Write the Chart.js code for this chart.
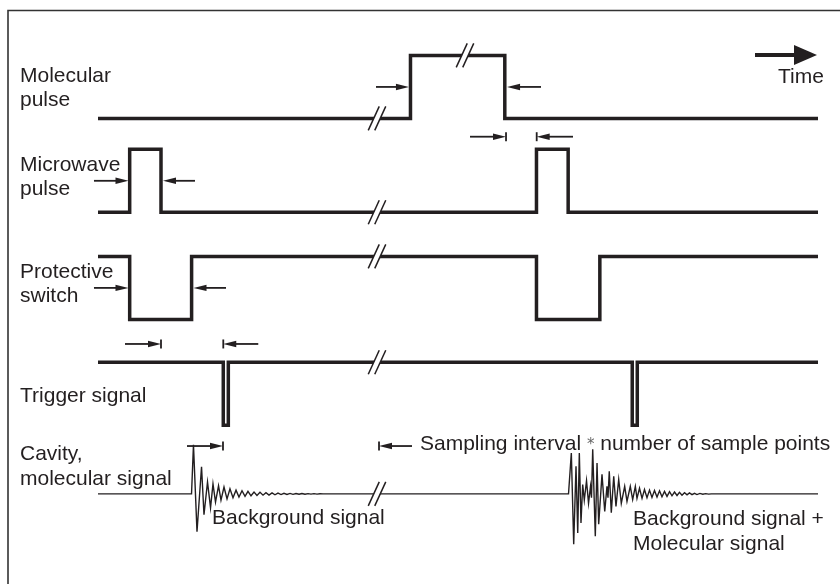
<!DOCTYPE html>
<html>
<head>
<meta charset="utf-8">
<script src="https://cdn.jsdelivr.net/npm/chart.js@4.4.0/dist/chart.umd.min.js"></script>
<style>
  html, body { margin: 0; padding: 0; background: #fff; }
  #wrap { width: 840px; height: 584px; position: relative; }
</style>
</head>
<body>
<div id="wrap"><canvas id="timing"></canvas></div>
<script>
// time runs 0..100 (arbitrary units); levels: 0 = low, 1 = high
const molecularPulse = [[0, 0], [43.4, 0], [43.4, 1], [56.5, 1], [56.5, 0], [100, 0]];
const microwavePulse = [[0, 0], [4.4, 0], [4.4, 1], [8.75, 1], [8.75, 0], [60.9, 0], [60.9, 1], [65.3, 1], [65.3, 0], [100, 0]];
const protectiveSwitch = [[0, 1], [4.4, 1], [4.4, 0], [13.0, 0], [13.0, 1], [60.9, 1], [60.9, 0], [69.7, 0], [69.7, 1], [100, 1]];
const triggerSignal = [[0, 1], [17.4, 1], [17.4, 0], [18.1, 0], [18.1, 1], [74.2, 1], [74.2, 0], [74.9, 0], [74.9, 1], [100, 1]];

// free induction decay after each microwave pulse
const backgroundRinging = [
  [12.99, 0], [13.26, 0.78], [13.75, -0.60], [14.38, 0.43], [14.72, -0.33], [15.21, 0.19],
  [15.63, -0.22], [15.97, 0.16], [16.32, -0.13], [16.74, 0.13], [17.08, -0.10], [17.50, 0.11],
  [17.92, -0.08], [18.33, 0.08], [18.75, -0.06], [19.17, 0.06], [19.58, -0.05], [20.00, 0.05],
  [20.42, -0.04], [20.83, 0.04], [21.25, -0.03], [21.67, 0.03], [22.08, -0.025], [22.50, 0.025],
  [22.92, -0.02], [23.33, 0.02], [23.75, -0.018], [24.17, 0.016], [24.58, -0.014], [25.00, 0.012],
  [25.42, -0.01], [25.83, 0.01], [26.25, -0.008], [26.67, 0.008], [27.08, -0.007], [27.50, 0.007],
  [27.92, -0.006], [28.33, 0.006], [28.75, -0.005], [29.17, 0.005], [29.58, -0.004], [30.00, 0.004],
  [30.42, -0.003], [30.83, 0.003], [31.25, 0]
];
const molecularRinging = [
  [65.35, 0], [65.74, 0.65], [66.07, -0.80], [66.39, 0.44], [66.63, -0.62], [66.85, 0.65],
  [67.08, -0.46], [67.32, 0.15], [67.54, -0.10], [67.85, 0.21], [68.13, -0.15], [68.40, 0.12],
  [68.54, -0.06], [68.71, 0.71], [69.07, -0.67], [69.31, 0.49], [69.54, -0.48], [70.00, 0.31],
  [70.38, -0.28], [70.69, 0.12], [70.83, -0.06], [71.01, 0.36], [71.29, -0.30], [71.63, 0.28],
  [71.94, -0.20], [72.32, 0.23], [72.68, -0.15], [73.15, 0.12], [73.47, -0.12], [73.93, 0.12],
  [74.26, -0.09], [74.63, 0.12], [74.86, -0.07], [75.21, 0.09], [75.56, -0.07], [75.90, 0.07],
  [76.25, -0.06], [76.60, 0.06], [76.94, -0.055], [77.29, 0.055], [77.64, -0.05], [77.99, 0.05],
  [78.33, -0.045], [78.68, 0.04], [79.03, -0.04], [79.38, 0.035], [79.72, -0.03], [80.07, 0.03],
  [80.42, -0.025], [80.76, 0.025], [81.11, -0.02], [81.46, 0.02], [81.81, -0.015], [82.15, 0.015],
  [82.50, -0.012], [82.85, 0.01], [83.19, -0.01], [83.60, 0.008], [84.00, -0.006], [84.40, 0.005],
  [84.80, -0.004], [85.20, 0]
];
const cavitySignal = [[0, 0], ...backgroundRinging, ...molecularRinging, [100, 0]];

// where the time axis is interrupted
const axisBreaks = [
  { row: "molecular", t: 38.75, level: 0 },
  { row: "molecular", t: 50.97, level: 1 },
  { row: "microwave", t: 38.75, level: 0 },
  { row: "protective", t: 38.75, level: 1 },
  { row: "trigger", t: 38.75, level: 1 },
  { row: "cavity", t: 38.75, level: 0 }
];

// delay markers: arrow from -> to, optional end bar
const delayMarkers = [
  { row: "molecular", level: 0.5, from: 38.61, to: 43.19 },
  { row: "molecular", level: 0.5, from: 61.53, to: 56.81 },
  { row: "microwave", level: 0.5, from: -0.56, to: 4.24 },
  { row: "microwave", level: 0.5, from: 13.47, to: 9.03 },
  { row: "protective", level: 0.5, from: -0.56, to: 4.24 },
  { row: "protective", level: 0.5, from: 17.78, to: 13.26 },
  { row: "microwave", level: 1.2, from: 51.67, to: 56.67, bar: true },
  { row: "microwave", level: 1.2, from: 65.97, to: 60.93, bar: true },
  { row: "trigger", level: 1.29, from: 3.75, to: 8.75, bar: true },
  { row: "trigger", level: 1.29, from: 22.26, to: 17.40, bar: true },
  { row: "cavity", level: 0.76, from: 12.36, to: 17.36, bar: true },
  { row: "cavity", level: 0.76, from: 43.61, to: 39.03, bar: true }
];

const rowBase = { molecular: 7.39, microwave: 5.90, protective: 4.20, trigger: 2.52, cavity: 1.43 };
const ink = "#231f20";
const font = "21px 'Liberation Sans', Arial, Helvetica, sans-serif";

function toPoints(series, row) {
  return series.map(([t, v]) => ({ x: t, y: rowBase[row] + v }));
}

function trace(series, row, width) {
  return {
    data: toPoints(series, row),
    borderColor: ink,
    borderWidth: width,
    borderJoinStyle: "miter",
    borderCapStyle: "butt",
    pointRadius: 0,
    tension: 0,
    fill: false,
    clip: false
  };
}

function drawBreak(ctx, x, y) {
  const h = 12, dx = 5.5, gap = 6.5;
  ctx.save();
  ctx.fillStyle = "#fff";
  ctx.beginPath();
  ctx.moveTo(x - gap / 2 - dx, y + h);
  ctx.lineTo(x - gap / 2 + dx, y - h);
  ctx.lineTo(x + gap / 2 + dx, y - h);
  ctx.lineTo(x + gap / 2 - dx, y + h);
  ctx.closePath();
  ctx.fill();
  ctx.strokeStyle = ink;
  ctx.lineWidth = 1.5;
  for (const off of [-gap / 2, gap / 2]) {
    ctx.beginPath();
    ctx.moveTo(x + off - dx, y + h);
    ctx.lineTo(x + off + dx, y - h);
    ctx.stroke();
  }
  ctx.restore();
}

function drawArrow(ctx, x0, x1, y, bar) {
  const dir = Math.sign(x1 - x0);
  const head = 13, half = 3.2;
  ctx.save();
  ctx.strokeStyle = ink;
  ctx.fillStyle = ink;
  ctx.lineWidth = 1.8;
  ctx.beginPath();
  ctx.moveTo(x0, y);
  ctx.lineTo(x1 - dir * head * 0.6, y);
  ctx.stroke();
  ctx.beginPath();
  ctx.moveTo(x1, y);
  ctx.lineTo(x1 - dir * head, y - half);
  ctx.lineTo(x1 - dir * head, y + half);
  ctx.closePath();
  ctx.fill();
  if (bar) {
    ctx.lineWidth = 1.8;
    ctx.beginPath();
    ctx.moveTo(x1, y - 4.5);
    ctx.lineTo(x1, y + 4.5);
    ctx.stroke();
  }
  ctx.restore();
}

const decorations = {
  id: "decorations",
  beforeDraw(chart) {
    const ctx = chart.ctx;
    ctx.save();
    ctx.fillStyle = "#fff";
    ctx.fillRect(0, 0, chart.width, chart.height);
    ctx.restore();
  },
  afterDatasetsDraw(chart) {
    const ctx = chart.ctx;
    const xs = chart.scales.x, ys = chart.scales.y;
    const yAt = (row, level) => ys.getPixelForValue(rowBase[row] + level);

    axisBreaks.forEach((b) => drawBreak(ctx, xs.getPixelForValue(b.t), yAt(b.row, b.level)));
    delayMarkers.forEach((m) =>
      drawArrow(ctx, xs.getPixelForValue(m.from), xs.getPixelForValue(m.to), yAt(m.row, m.level), m.bar)
    );

    // frame
    ctx.save();
    ctx.strokeStyle = "#333";
    ctx.lineWidth = 1.6;
    ctx.beginPath();
    ctx.moveTo(8, chart.height);
    ctx.lineTo(8, 10.5);
    ctx.lineTo(chart.width, 10.5);
    ctx.stroke();

    // time direction arrow
    ctx.fillStyle = ink;
    ctx.strokeStyle = ink;
    ctx.lineWidth = 4;
    ctx.beginPath();
    ctx.moveTo(755, 55);
    ctx.lineTo(798, 55);
    ctx.stroke();
    ctx.beginPath();
    ctx.moveTo(817, 55);
    ctx.lineTo(794, 45);
    ctx.lineTo(794, 65);
    ctx.closePath();
    ctx.fill();

    ctx.font = font;
    ctx.textBaseline = "alphabetic";
    ctx.textAlign = "left";
    const labels = [
      ["Time", 778, 82.5],
      ["Molecular", 20, 82], ["pulse", 20, 106],
      ["Microwave", 20, 171], ["pulse", 20, 195],
      ["Protective", 20, 278], ["switch", 20, 302],
      ["Trigger signal", 20, 402],
      ["Cavity,", 20, 460], ["molecular signal", 20, 485],
      ["Background signal", 212, 524],
      ["Background signal +", 633, 525], ["Molecular signal", 633, 550]
    ];
    labels.forEach(([text, x, y]) => ctx.fillText(text, x, y));

    // sampling window caption with a small grey asterisk
    let cx = 420;
    const part1 = "Sampling interval ";
    ctx.fillText(part1, cx, 450);
    cx += ctx.measureText(part1).width;
    ctx.font = "15px 'DejaVu Sans', sans-serif";
    ctx.fillStyle = "#666";
    ctx.fillText("*", cx, 449);
    cx += ctx.measureText("*").width;
    ctx.font = font;
    ctx.fillStyle = ink;
    ctx.fillText(" number of sample points", cx, 450);
    ctx.restore();
  }
};

new Chart(document.getElementById("timing"), {
  type: "line",
  data: {
    datasets: [
      trace(molecularPulse, "molecular", 3.5),
      trace(microwavePulse, "microwave", 3.5),
      trace(protectiveSwitch, "protective", 3.5),
      trace(triggerSignal, "trigger", 3.5),
      trace(cavitySignal, "cavity", 1.4)
    ]
  },
  options: {
    responsive: true,
    maintainAspectRatio: false,
    animation: false,
    events: [],
    layout: { padding: { left: 98, right: 22, top: 0, bottom: 0 } },
    scales: {
      x: { type: "linear", min: 0, max: 100, display: false },
      y: { type: "linear", min: 0, max: 584 / 63, display: false }
    },
    plugins: { legend: { display: false }, tooltip: { enabled: false } }
  },
  plugins: [decorations]
});
</script>
</body>
</html>
